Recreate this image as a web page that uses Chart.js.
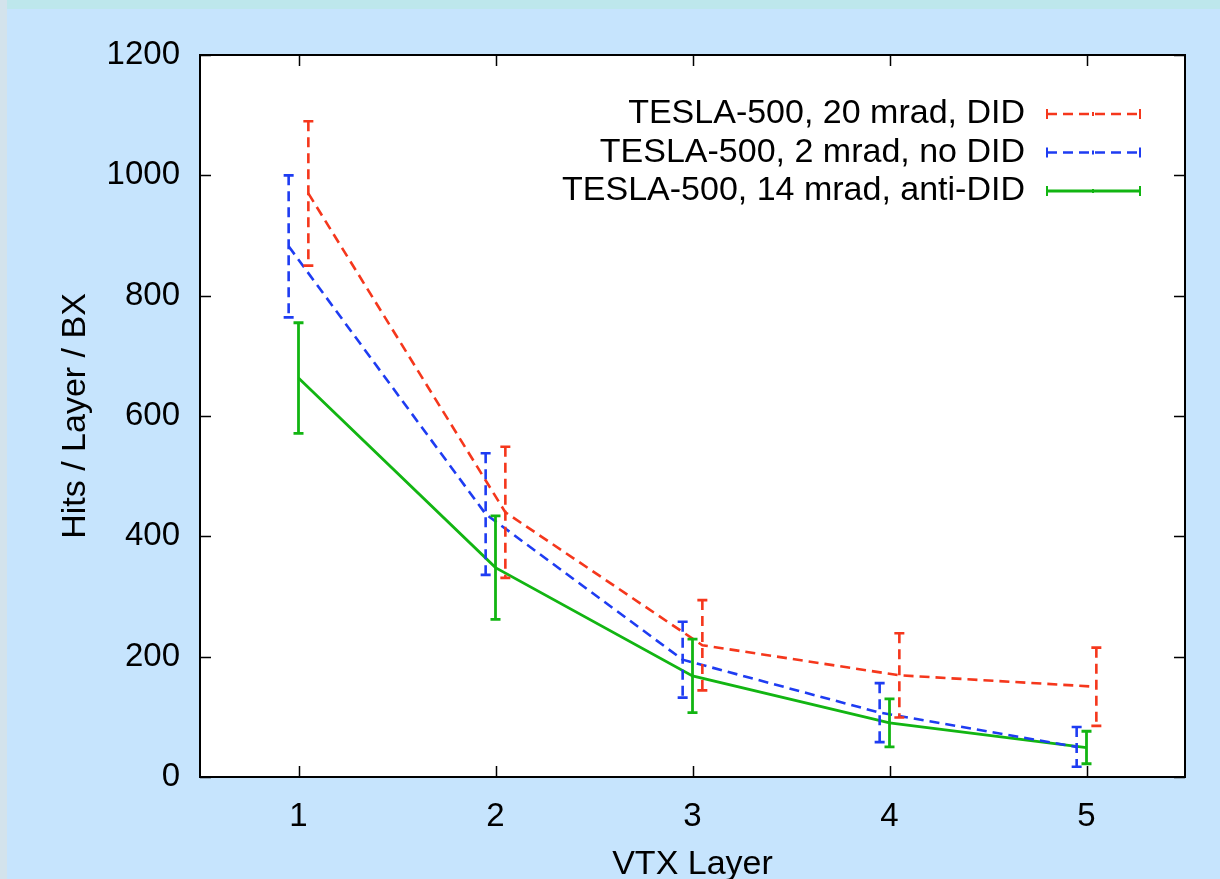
<!DOCTYPE html>
<html>
<head>
<meta charset="utf-8">
<script src="https://cdn.jsdelivr.net/npm/chart.js@4.4.1/dist/chart.umd.min.js"></script>
<style>
    html, body { margin: 0; padding: 0; }
    body { width: 1220px; height: 879px; background: #c6e4fd; position: relative; overflow: hidden; }
    #topStrip { position: absolute; left: 0; top: 0; width: 1220px; height: 9px; background: #bde7ec; }
    #leftStrip { position: absolute; left: 0; top: 0; width: 7px; height: 879px; background: #d3e3ec; }
    #wrap { position: absolute; left: 0; top: 0; width: 1220px; height: 879px; }
</style>
</head>
<body>
<div id="topStrip"></div>
<div id="leftStrip"></div>
<div id="wrap"><canvas id="hitsChart" width="1220" height="879"></canvas></div>
<script>
// ---- data ----
const layers = [1, 2, 3, 4, 5];
const xTicks = [1, 2, 3, 4, 5];
const yTicks = [0, 200, 400, 600, 800, 1000, 1200];

const didLabel = 'TESLA-500, 20 mrad, DID';
const didHits = [970, 440, 219, 169, 150];
const didErr = [120, 109, 75, 70, 65];

const noDidLabel = 'TESLA-500, 2 mrad, no DID';
const noDidHits = [882, 437, 195, 107, 50];
const noDidErr = [118, 101, 63, 49, 33];

const antiDidLabel = 'TESLA-500, 14 mrad, anti-DID';
const antiDidHits = [663, 348, 168, 90, 49];
const antiDidErr = [92, 86, 61, 40, 27];

// small horizontal shift so the error bars don't overlap
const xShift = [0.05, -0.05, 0];

const FONT = '"Liberation Sans", Arial, Helvetica, sans-serif';

function points(vals, errs, shift) {
    return layers.map((l, i) => ({ x: l + shift, y: vals[i], err: errs[i] }));
}

// =====================================================
// plot decorations: white frame, error bars, inward ticks, key
// =====================================================
const gnuplotLook = {
    id: 'gnuplotLook',
    beforeDraw(chart) {
        const { ctx, chartArea: a } = chart;
        ctx.save();
        ctx.fillStyle = '#ffffff';
        ctx.fillRect(a.left, a.top, a.right - a.left, a.bottom - a.top);
        ctx.restore();
    },
    afterDatasetsDraw(chart) {
        const { ctx, chartArea: a, scales: { x, y } } = chart;

        // error bars
        chart.data.datasets.forEach(ds => {
            ctx.save();
            ctx.strokeStyle = ds.borderColor;
            ctx.lineWidth = ds.borderWidth;
            ctx.setLineDash(ds.borderDash || []);
            ds.data.forEach(p => {
                const px = x.getPixelForValue(p.x);
                const yt = y.getPixelForValue(p.y + p.err);
                const yb = y.getPixelForValue(p.y - p.err);
                ctx.beginPath();
                ctx.moveTo(px, yt);
                ctx.lineTo(px, yb);
                ctx.stroke();
                ctx.save();
                ctx.setLineDash([]);
                ctx.beginPath();
                ctx.moveTo(px - 5, yt); ctx.lineTo(px + 5, yt);
                ctx.moveTo(px - 5, yb); ctx.lineTo(px + 5, yb);
                ctx.stroke();
                ctx.restore();
            });
            ctx.restore();
        });

        // frame + inward ticks
        ctx.save();
        ctx.strokeStyle = '#000000';
        ctx.lineWidth = 2;
        ctx.strokeRect(a.left, a.top, a.right - a.left, a.bottom - a.top);
        ctx.lineWidth = 1.5;
        ctx.beginPath();
        xTicks.forEach(v => {
            const px = Math.round(x.getPixelForValue(v)) + 0.5;
            ctx.moveTo(px, a.bottom); ctx.lineTo(px, a.bottom - 11);
            ctx.moveTo(px, a.top); ctx.lineTo(px, a.top + 11);
        });
        yTicks.forEach(v => {
            const py = Math.round(y.getPixelForValue(v)) + 0.5;
            ctx.moveTo(a.left, py); ctx.lineTo(a.left + 11, py);
            ctx.moveTo(a.right, py); ctx.lineTo(a.right - 11, py);
        });
        ctx.stroke();
        ctx.restore();

        // key (top right)
        ctx.save();
        ctx.font = '34px ' + FONT;
        ctx.textAlign = 'right';
        ctx.textBaseline = 'middle';
        chart.data.datasets.forEach((ds, i) => {
            const ky = 114 + i * 38.5;
            ctx.fillStyle = '#000000';
            ctx.fillText(ds.label, 1025, ky);
            ctx.strokeStyle = ds.borderColor;
            ctx.lineWidth = ds.borderWidth;
            ctx.setLineDash(ds.borderDash || []);
            ctx.beginPath();
            ctx.moveTo(1047, ky); ctx.lineTo(1140, ky);
            ctx.stroke();
            ctx.setLineDash([]);
            ctx.lineWidth = 2;
            ctx.beginPath();
            ctx.moveTo(1047, ky - 5); ctx.lineTo(1047, ky + 5);
            ctx.moveTo(1140, ky - 5); ctx.lineTo(1140, ky + 5);
            ctx.moveTo(1093, ky - 2); ctx.lineTo(1093, ky + 2);
            ctx.stroke();
        });
        ctx.restore();
    }
};

new Chart(document.getElementById('hitsChart'), {
    type: 'scatter',
    data: {
        datasets: [
            {
                label: didLabel,
                data: points(didHits, didErr, xShift[0]),
                showLine: true,
                borderColor: '#f5371c',
                borderWidth: 2.6,
                borderDash: [10, 6],
                pointRadius: 0
            },
            {
                label: noDidLabel,
                data: points(noDidHits, noDidErr, xShift[1]),
                showLine: true,
                borderColor: '#1e3cf2',
                borderWidth: 2.6,
                borderDash: [10, 6],
                pointRadius: 0
            },
            {
                label: antiDidLabel,
                data: points(antiDidHits, antiDidErr, xShift[2]),
                showLine: true,
                borderColor: '#12b512',
                borderWidth: 2.8,
                pointRadius: 0
            }
        ]
    },
    options: {
        responsive: false,
        animation: false,
        layout: { padding: { top: 55, right: 35, left: 0, bottom: 0 } },
        plugins: {
            legend: { display: false },
            tooltip: { enabled: false }
        },
        scales: {
            x: {
                type: 'linear',
                min: 0.5,
                max: 5.5,
                grid: { display: false, drawTicks: false },
                border: { display: false },
                afterBuildTicks: s => { s.ticks = xTicks.map(v => ({ value: v })); },
                ticks: { color: '#000', font: { family: FONT, size: 33 }, padding: 20, callback: v => String(v) },
                title: {
                    display: true,
                    text: 'VTX Layer',
                    color: '#000',
                    font: { family: FONT, size: 34 },
                    padding: { top: 0, bottom: -6 }
                },
                afterFit(s) { s.height = 102; }
            },
            y: {
                min: 0,
                max: 1200,
                grid: { display: false, drawTicks: false },
                border: { display: false },
                afterBuildTicks: s => { s.ticks = yTicks.map(v => ({ value: v })); },
                ticks: { color: '#000', font: { family: FONT, size: 33 }, padding: 20, callback: v => String(v) },
                title: {
                    display: true,
                    text: 'Hits / Layer / BX',
                    color: '#000',
                    font: { family: FONT, size: 34 },
                    padding: { top: 55, bottom: 0 }
                },
                afterFit(s) { s.width = 200; }
            }
        }
    },
    plugins: [gnuplotLook]
});
</script>
</body>
</html>
